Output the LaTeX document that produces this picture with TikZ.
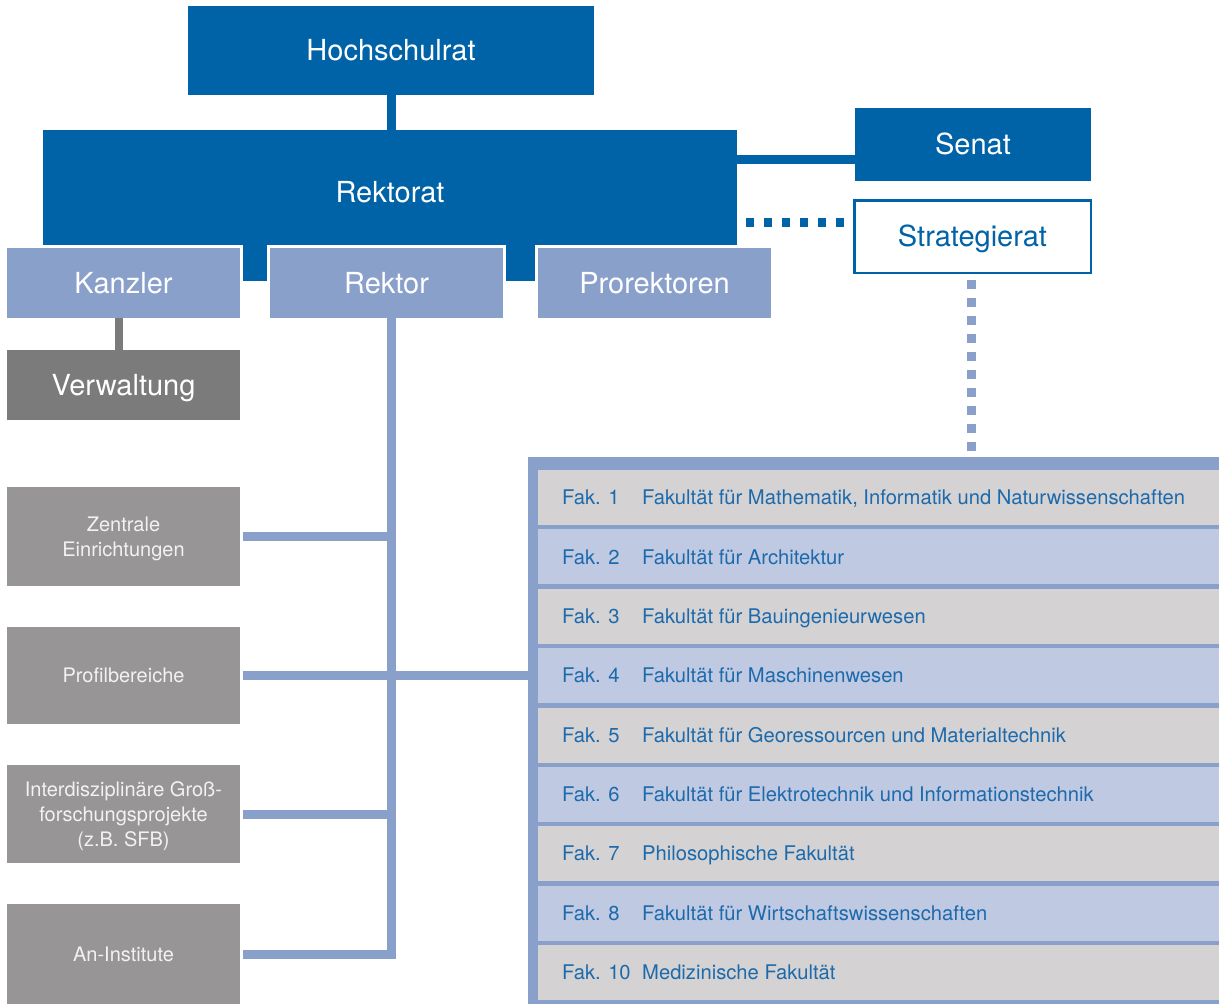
\documentclass[tikz,border=0pt]{standalone}
\usepackage{fontspec}
\setmainfont{TeX Gyre Heros}
\usetikzlibrary{calc}
\definecolor{dblue}{RGB}{0,99,167}
\definecolor{lblue}{RGB}{137,160,203}
\definecolor{vgray}{RGB}{123,123,123}
\definecolor{bgray}{RGB}{151,149,149}
\definecolor{rgray}{RGB}{212,210,211}
\definecolor{rblue}{RGB}{192,201,226}
\definecolor{ftext}{RGB}{28,106,172}
\definecolor{boxtext}{RGB}{242,242,242}
\begin{document}
\begin{tikzpicture}[x=1pt,y=-1pt,
  box/.style={rectangle, inner sep=0pt, outer sep=0pt, anchor=north west, align=center},
  big/.style={font=\fontsize{29}{34}\selectfont, text height=20.5pt, text depth=0pt},
  small/.style={font=\fontsize{20}{25}\selectfont, text=boxtext, text depth=0pt},
  dark/.style={box, fill=dblue, text=white, big},
  light/.style={box, fill=lblue, text=white, big, draw=white, line width=3pt, minimum width=236pt, minimum height=73pt},
  gbox/.style={box, fill=bgray, small, minimum width=233pt},
  dconn/.style={draw=dblue, line width=9pt},
  lconn/.style={draw=lblue, line width=9pt},
  gconn/.style={draw=vgray, line width=8pt},
  ddot/.style={draw=dblue, line width=9pt, dash pattern=on 8pt off 10pt},
  ldot/.style={draw=lblue, line width=9pt, dash pattern=on 9pt off 9pt},
  facnum/.style={anchor=base west, inner sep=0pt, text=ftext, font=\fontsize{20.2}{24}\selectfont},
  rowbox/.style={box, minimum width=681pt, minimum height=55pt}
]
\useasboundingbox (0,0) rectangle (1219,1004);

% top level
\node[dark, minimum width=406pt, minimum height=89pt] (hsr) at (188,6) {Hochschulrat};
\node[dark, minimum width=694pt, minimum height=151pt] (rek) at (43,130) {};
\node[big, text=white, inner sep=0pt] (rektxt) at (390,192) {Rektorat};
\node[dark, minimum width=236pt, minimum height=73pt] (senat) at (855,108) {Senat};
\node[box, big, text=dblue, fill=white, draw=dblue, line width=2.5pt, minimum width=236.5pt, minimum height=72.5pt] (strat) at (854.25,200.25) {Strategierat};

% Rektorat members
\node[light] (kan) at (5.5,246.5) {Kanzler};
\node[light] (rektor) at (268.5,246.5) {Rektor};
\node[light] (pror) at (536.5,246.5) {Prorektoren};

\node[box, fill=vgray, text=white, big, minimum width=233pt, minimum height=70pt] (verw) at (7,350) {Verwaltung};

% left grey boxes
\node[gbox, minimum height=99pt] (zen) at (7,487) {Zentrale\\Einrichtungen};
\node[gbox, minimum height=97pt] (prof) at (7,627) {Profilbereiche};
\node[gbox, minimum height=98pt] (inter) at (7,765) {Interdisziplinäre Groß-\\forschungsprojekte\\(z.B. SFB)};
\node[gbox, minimum height=100pt] (an) at (7,904) {An-Institute};

% faculties
\node[box, fill=lblue, minimum width=691pt, minimum height=547pt] (fak) at (528,457) {};
\foreach \n/\t [count=\i from 0] in {
  1/{Fakultät für Mathematik, Informatik und Naturwissenschaften},
  2/{Fakultät für Architektur},
  3/{Fakultät für Bauingenieurwesen},
  4/{Fakultät für Maschinenwesen},
  5/{Fakultät für Georessourcen und Materialtechnik},
  6/{Fakultät für Elektrotechnik und Informationstechnik},
  7/{Philosophische Fakultät},
  8/{Fakultät für Wirtschaftswissenschaften},
  10/{Medizinische Fakultät}}{
  \pgfmathsetmacro\ry{470+59.375*\i}
  \pgfmathsetmacro\rb{\ry+34.7}
  \ifodd\i \def\rc{rblue}\else\def\rc{rgray}\fi
  \node[rowbox, fill=\rc] (row\n) at (538,\ry) {};
  \node[facnum] (num\n) at (562,\rb) {Fak. \n};
  \node[facnum] (name\n) at (642,\rb) {\t};
}

% connectors
\draw[dconn] (hsr.south) -- (rek.north -| hsr.south);
\coordinate (senc) at ([yshift=-15pt]senat.west);
\draw[dconn] (senc -| rek.east) -- (senc);
\coordinate (stc) at ([yshift=14.5pt]strat.west);
\draw[ddot] ($(stc -| rek.east)+(9,0)$) -- ($(stc)+(-8,0)$);
\draw[ldot] ($(strat.south)+(-1,7)$) -- ($(strat.south |- fak.north)+(-1,-5)$);
\draw[gconn] ([xshift=-4.5pt,yshift=1.5pt]kan.south) -- ([xshift=-4.5pt]verw.north);
\coordinate (vline) at ([xshift=4.5pt]rektor.south);
\draw[lconn] ([xshift=4.5pt,yshift=1.5pt]rektor.south) |- ([xshift=3pt]an.east);
\draw[lconn] ([xshift=3pt]zen.east) -- (zen.east -| vline);
\draw[lconn] ([xshift=3pt]prof.east) -- (prof.east -| fak.west);
\draw[lconn] ([xshift=3pt]inter.east) -- (inter.east -| vline);
\end{tikzpicture}
\end{document}
